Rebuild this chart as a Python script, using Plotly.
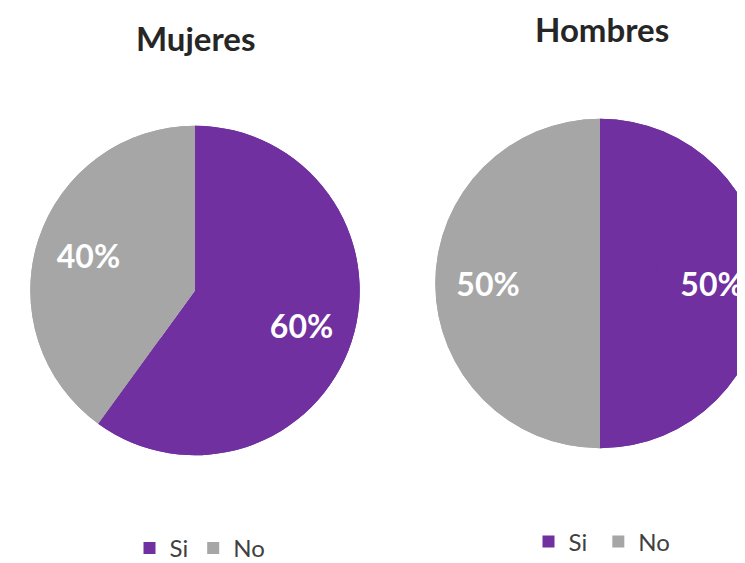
import plotly.graph_objects as go

labels = ["Si", "No"]
labels_h = ["Si ", "No "]
mujeres = [60, 40]
hombres = [50, 50]
colors = ["#7030A0", "#A6A6A6"]

W, H = 770, 563
OX, OY = 8, 7  # page body margin compensation

def px(x):
    return (x - OX) / W

def py(y):
    return 1 - (y - OY) / H

def px_dom(x0, x1, y0, y1):
    return dict(x=[px(x0), px(x1)], y=[py(y1), py(y0)])

txtfont = dict(family="Lato", size=32, color="white", weight="bold")

fig = go.Figure()
# base full pies (no text)
for vals, labs, dom, lg in [(mujeres, labels, px_dom(30, 360, 125, 455), "legend"),
                            (hombres, labels_h, px_dom(435, 765, 118, 448), "legend2")]:
    fig.add_trace(go.Pie(
        labels=labs, values=vals, sort=False, direction="clockwise", rotation=0,
        marker=dict(colors=colors, line=dict(width=0)),
        textinfo="none", domain=dom, legend=lg, hoverinfo="skip", showlegend=True,
    ))
    fig.add_trace(go.Pie(
        labels=labs, values=vals, sort=False, direction="clockwise", rotation=0,
        hole=0.36,
        marker=dict(colors=colors, line=dict(width=0)),
        texttemplate="%{percent:.0%}", textposition="inside",
        insidetextorientation="horizontal",
        insidetextfont=txtfont, domain=dom, legend=lg, showlegend=False,
        hoverinfo="label+percent",
    ))

legfont = dict(family="Lato", size=24, color="#404040")
fig.update_layout(
    width=W, height=H, margin=dict(l=0, r=0, t=0, b=0),
    paper_bgcolor="white", plot_bgcolor="white",
    font=dict(family="Lato", color="#404040"),
    legend=dict(orientation="h", x=px(200), y=py(548), xanchor="center", yanchor="middle",
                font=legfont, itemwidth=30, traceorder="normal"),
    legend2=dict(orientation="h", x=px(605), y=py(541), xanchor="center", yanchor="middle",
                 font=legfont, itemwidth=30, traceorder="normal"),
    annotations=[
        dict(text="<b>Mujeres</b>", x=px(195), y=py(37), xref="paper", yref="paper",
             xanchor="center", yanchor="middle",
             showarrow=False, font=dict(family="Lato", size=33, color="#262626")),
        dict(text="<b>Hombres</b>", x=px(602), y=py(28), xref="paper", yref="paper",
             xanchor="center", yanchor="middle",
             showarrow=False, font=dict(family="Lato", size=33, color="#262626")),
    ],
)

fig.write_html("out.html")
